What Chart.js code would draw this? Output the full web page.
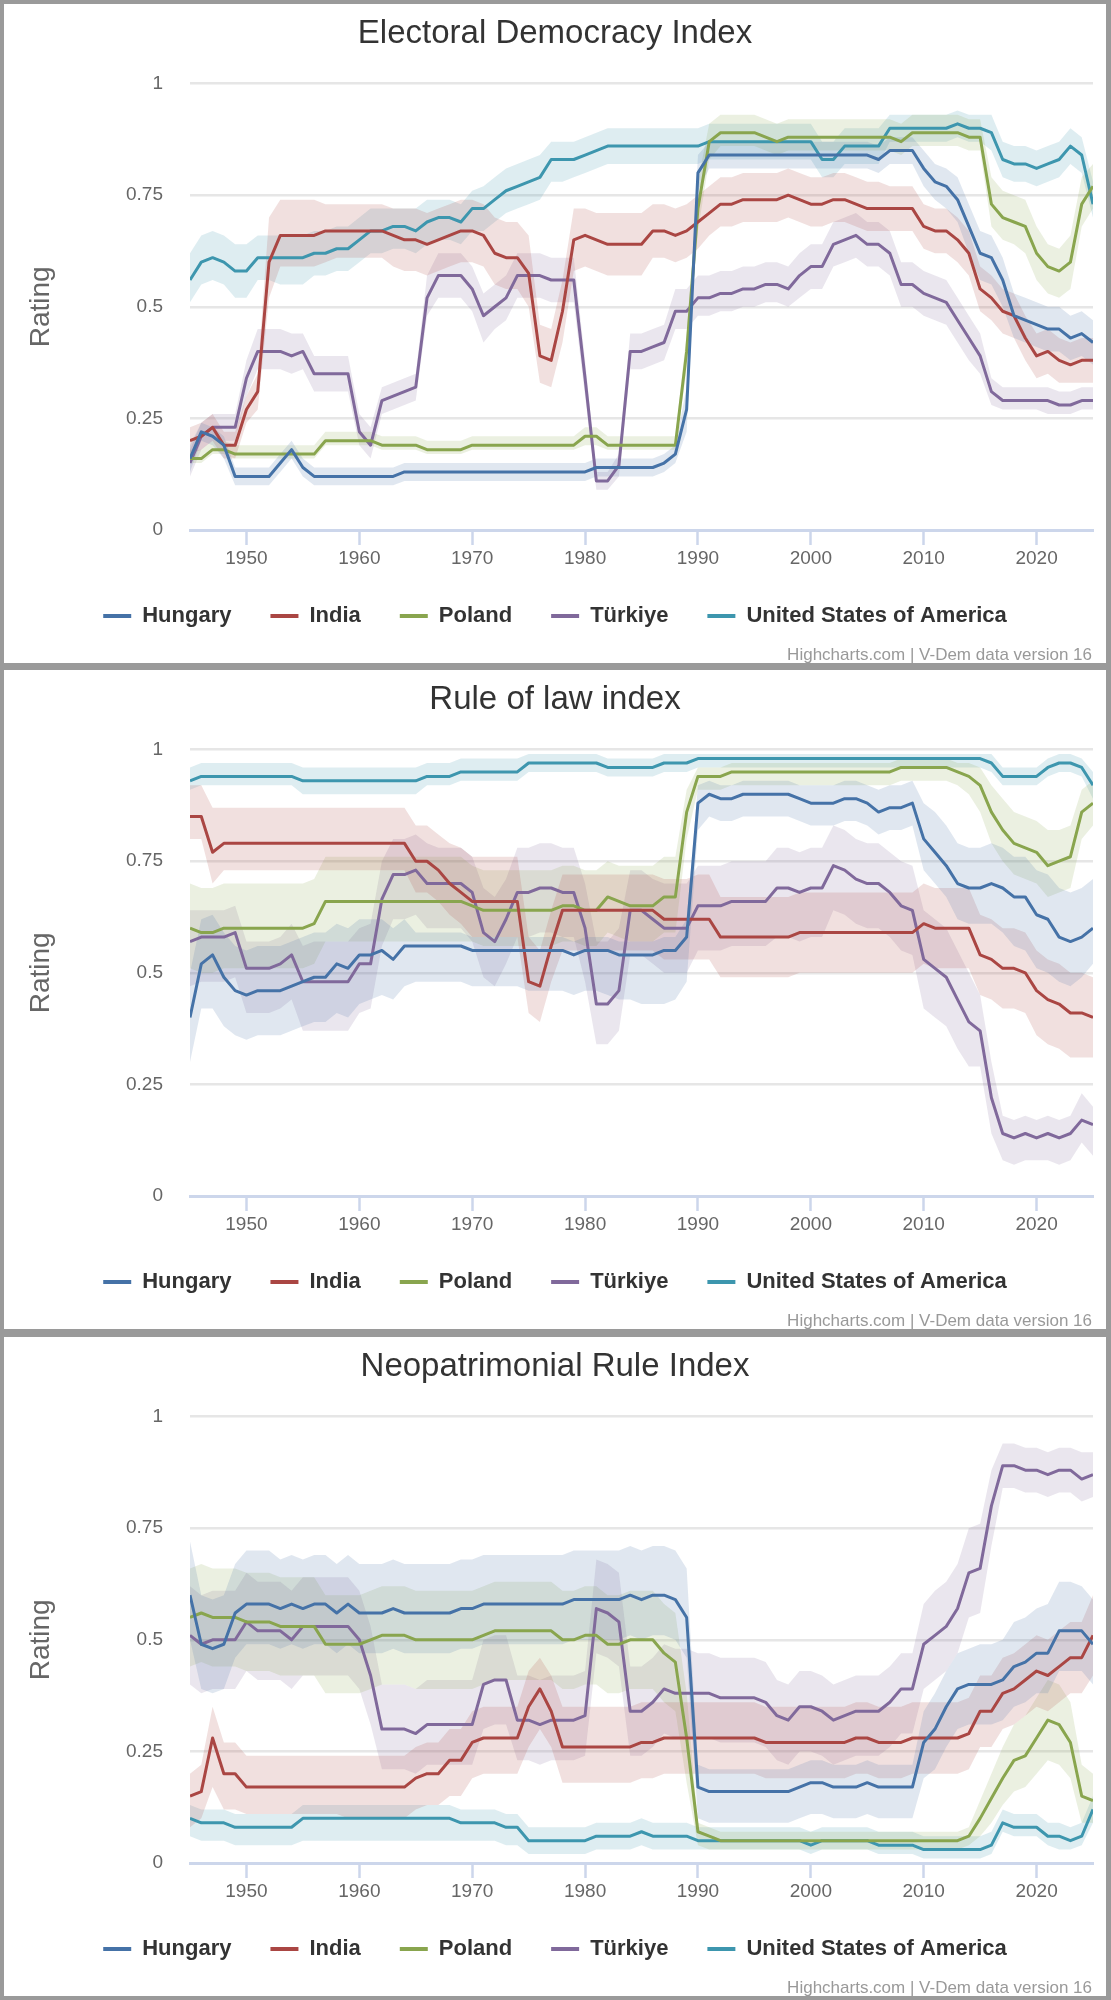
<!DOCTYPE html>
<html>
<head>
<meta charset="utf-8">
<script src="https://cdn.jsdelivr.net/npm/chart.js@4.4.1/dist/chart.umd.min.js"></script>
<style>
  html, body { margin: 0; padding: 0; }
  body { width: 1111px; height: 2000px; background: #9a9a9a; position: relative; overflow: hidden; }
  .box { position: absolute; left: 4px; width: 1102px; height: 659px; background: #fff; }
</style>
</head>
<body>
<div class="box" style="top:4px"><canvas id="ed"></canvas></div>
<div class="box" style="top:670px"><canvas id="rol"></canvas></div>
<div class="box" style="top:1337px"><canvas id="np"></canvas></div>
<script>
const years = [1945,1946,1947,1948,1949,1950,1951,1952,1953,1954, 1955,1956,1957,1958,1959,1960,1961,1962,1963,1964,
  1965,1966,1967,1968,1969,1970,1971,1972,1973,1974, 1975,1976,1977,1978,1979,1980,1981,1982,1983,1984,
  1985,1986,1987,1988,1989,1990,1991,1992,1993,1994, 1995,1996,1997,1998,1999,2000,2001,2002,2003,2004,
  2005,2006,2007,2008,2009,2010,2011,2012,2013,2014, 2015,2016,2017,2018,2019,2020,2021,2022,2023,2024, 2025];
const countries = ["Hungary", "India", "Poland", "Türkiye", "United States of America"];
const xTicks = [1950, 1960, 1970, 1980, 1990, 2000, 2010, 2020];
const yTicks = [0, 0.25, 0.5, 0.75, 1];

// Electoral Democracy Index
const edHungary = [.16,.22,.21,.19,.12,.12,.12,.12,.15,.18, .14,.12,.12,.12,.12,.12,.12,.12,.12,.13, .13,.13,.13,.13,.13,.13,.13,.13,.13,.13, .13,.13,.13,.13,.13,.13,.14,.14,.14,.14, .14,.14,.15,.17,.27,.80,.84,.84,.84,.84, .84,.84,.84,.84,.84,.84,.84,.84,.84,.84, .84,.83,.85,.85,.85,.81,.78,.77,.74,.68, .62,.61,.56,.48,.47,.46,.45,.45,.43,.44, .42];
const edHungaryHi = [.19,.24,.23,.21,.14,.14,.14,.14,.17,.20, .16,.14,.14,.14,.14,.14,.14,.14,.14,.15, .15,.15,.15,.15,.15,.15,.15,.15,.15,.15, .15,.15,.15,.15,.15,.15,.16,.16,.16,.16, .16,.16,.17,.19,.32,.84,.87,.87,.87,.87, .87,.87,.87,.87,.87,.87,.87,.87,.87,.87, .87,.86,.88,.88,.88,.85,.82,.81,.79,.73, .67,.66,.61,.53,.52,.51,.50,.50,.48,.49, .47];
const edHungaryLo = [.13,.20,.19,.16,.10,.10,.10,.10,.13,.16, .12,.10,.10,.10,.10,.10,.10,.10,.10,.11, .11,.11,.11,.11,.11,.11,.11,.11,.11,.11, .11,.11,.11,.11,.11,.11,.12,.12,.12,.12, .12,.12,.13,.15,.22,.76,.81,.81,.81,.81, .81,.81,.81,.81,.81,.81,.81,.81,.81,.81, .81,.80,.82,.82,.82,.77,.74,.72,.69,.62, .56,.55,.50,.43,.42,.41,.40,.40,.38,.39, .37];
const edIndia = [.20,.21,.23,.19,.19,.27,.31,.60,.66,.66, .66,.66,.67,.67,.67,.67,.67,.67,.66,.65, .65,.64,.65,.66,.67,.67,.66,.62,.61,.61, .575,.39,.38,.49,.65,.66,.65,.64,.64,.64, .64,.67,.67,.66,.67,.69,.71,.73,.73,.74, .74,.74,.74,.75,.74,.73,.73,.74,.74,.73, .72,.72,.72,.72,.72,.68,.67,.67,.65,.62, .54,.52,.49,.48,.43,.39,.40,.38,.37,.38, .38];
const edIndiaHi = [.23,.24,.26,.22,.22,.30,.35,.70,.74,.74, .74,.74,.73,.73,.73,.73,.73,.73,.72,.72, .72,.71,.72,.73,.74,.74,.73,.70,.69,.69, .66,.46,.45,.56,.72,.72,.71,.71,.71,.71, .71,.73,.73,.72,.73,.75,.77,.79,.79,.80, .80,.80,.80,.81,.80,.79,.79,.80,.80,.79, .78,.78,.77,.77,.77,.73,.72,.72,.70,.67, .59,.57,.54,.53,.48,.44,.45,.43,.42,.43, .43];
const edIndiaLo = [.17,.18,.20,.16,.16,.24,.27,.52,.59,.59, .59,.59,.60,.61,.61,.61,.61,.61,.59,.58, .58,.57,.58,.59,.60,.60,.59,.55,.54,.54, .50,.33,.32,.42,.58,.59,.58,.57,.57,.57, .57,.61,.61,.60,.61,.63,.66,.68,.68,.69, .69,.69,.69,.70,.69,.68,.68,.69,.69,.68, .67,.67,.67,.67,.67,.63,.62,.62,.60,.57, .49,.47,.44,.43,.38,.34,.35,.33,.33,.33, .33];
const edPoland = [.16,.16,.18,.18,.17,.17,.17,.17,.17,.17, .17,.17,.20,.20,.20,.20,.20,.19,.19,.19, .19,.18,.18,.18,.18,.19,.19,.19,.19,.19, .19,.19,.19,.19,.19,.21,.21,.19,.19,.19, .19,.19,.19,.19,.40,.72,.87,.89,.89,.89, .89,.88,.87,.88,.88,.88,.88,.88,.88,.88, .88,.88,.88,.87,.89,.89,.89,.89,.89,.88, .88,.73,.70,.69,.68,.62,.59,.58,.60,.73, .77];
const edPolandHi = [.18,.18,.20,.20,.19,.19,.19,.19,.19,.19, .19,.19,.22,.22,.22,.22,.22,.21,.21,.21, .21,.20,.20,.20,.20,.21,.21,.21,.21,.21, .21,.21,.21,.21,.21,.23,.23,.21,.21,.21, .21,.21,.21,.21,.44,.78,.91,.93,.93,.93, .93,.92,.91,.92,.92,.92,.92,.92,.92,.92, .92,.92,.92,.91,.93,.93,.93,.93,.93,.92, .92,.79,.76,.75,.74,.68,.64,.63,.66,.79, .82];
const edPolandLo = [.15,.15,.17,.17,.16,.16,.16,.16,.16,.16, .16,.16,.19,.19,.19,.19,.19,.18,.18,.18, .18,.17,.17,.17,.17,.18,.18,.18,.18,.18, .18,.18,.18,.18,.18,.19,.19,.18,.18,.18, .18,.18,.18,.18,.36,.67,.83,.86,.86,.86, .86,.85,.84,.85,.85,.85,.85,.85,.85,.85, .85,.85,.85,.84,.86,.86,.86,.86,.86,.85, .85,.68,.65,.64,.62,.56,.53,.52,.54,.68, .72];
const edTurkiye = [.15,.21,.23,.23,.23,.34,.40,.40,.40,.39, .40,.35,.35,.35,.35,.22,.19,.29,.30,.31, .32,.52,.57,.57,.57,.54,.48,.50,.52,.57, .57,.57,.56,.56,.56,.34,.11,.11,.145,.40, .40,.41,.42,.49,.49,.52,.52,.53,.53,.54, .54,.55,.55,.54,.57,.59,.59,.64,.65,.66, .64,.64,.62,.55,.55,.53,.52,.51,.47,.43, .39,.31,.29,.29,.29,.29,.29,.28,.28,.29, .29];
const edTurkiyeHi = [.18,.24,.26,.26,.26,.38,.45,.45,.45,.44, .44,.39,.39,.39,.39,.26,.23,.32,.33,.34, .35,.57,.62,.62,.62,.59,.53,.55,.57,.62, .62,.62,.61,.61,.61,.38,.13,.13,.17,.44, .44,.45,.46,.54,.54,.57,.57,.58,.58,.59, .59,.60,.60,.59,.62,.64,.64,.69,.70,.71, .69,.69,.67,.60,.60,.58,.57,.56,.52,.48, .44,.34,.32,.32,.32,.32,.32,.31,.31,.32, .32];
const edTurkiyeLo = [.12,.18,.20,.20,.20,.30,.36,.36,.36,.35, .36,.31,.31,.31,.31,.19,.16,.26,.27,.28, .29,.48,.52,.52,.52,.49,.42,.45,.47,.52, .52,.52,.51,.51,.51,.30,.09,.09,.12,.36, .36,.37,.38,.45,.45,.48,.48,.49,.49,.50, .50,.51,.51,.50,.52,.54,.54,.59,.60,.61, .59,.59,.57,.50,.50,.48,.47,.46,.42,.38, .35,.28,.27,.27,.27,.27,.26,.26,.26,.27, .27];
const edUsa = [.56,.60,.61,.60,.58,.58,.61,.61,.61,.61, .61,.62,.62,.63,.63,.65,.67,.67,.68,.68, .67,.69,.70,.70,.69,.72,.72,.74,.76,.77, .78,.79,.83,.83,.83,.84,.85,.86,.86,.86, .86,.86,.86,.86,.86,.86,.87,.87,.87,.87, .87,.87,.87,.87,.87,.87,.83,.83,.86,.86, .86,.86,.90,.90,.90,.90,.90,.90,.91,.90, .90,.89,.83,.82,.82,.81,.82,.83,.86,.84, .73];
const edUsaHi = [.62,.66,.67,.66,.64,.64,.66,.66,.66,.66, .66,.67,.67,.68,.68,.70,.72,.72,.72,.72, .72,.74,.74,.74,.73,.76,.77,.79,.81,.82, .83,.84,.87,.87,.87,.88,.89,.90,.90,.90, .90,.90,.90,.90,.90,.90,.91,.91,.91,.91, .91,.91,.91,.91,.91,.91,.87,.87,.90,.90, .90,.90,.93,.93,.93,.93,.93,.93,.94,.93, .93,.93,.87,.86,.86,.85,.86,.87,.90,.88, .78];
const edUsaLo = [.51,.55,.56,.55,.52,.52,.56,.56,.55,.55, .55,.57,.57,.58,.58,.60,.62,.62,.63,.63, .62,.64,.65,.65,.64,.67,.67,.69,.71,.72, .73,.74,.78,.78,.79,.80,.81,.82,.82,.82, .82,.82,.82,.82,.82,.82,.83,.83,.83,.83, .83,.83,.83,.83,.83,.83,.79,.79,.82,.82, .82,.82,.87,.87,.87,.87,.87,.87,.88,.87, .87,.85,.79,.78,.78,.77,.78,.79,.82,.80, .70];

// Rule of law index
const rolHungary = [.40,.52,.54,.49,.46,.45,.46,.46,.46,.47, .48,.49,.49,.52,.51,.54,.54,.55,.53,.56, .56,.56,.56,.56,.56,.55,.55,.55,.55,.55, .55,.55,.55,.55,.54,.55,.55,.55,.54,.54, .54,.54,.55,.55,.58,.88,.90,.89,.89,.90, .90,.90,.90,.90,.89,.88,.88,.88,.89,.89, .88,.86,.87,.87,.88,.80,.77,.74,.70,.69, .69,.70,.69,.67,.67,.63,.62,.58,.57,.58, .60];
const rolHungaryHi = [.50,.62,.63,.59,.56,.55,.56,.56,.56,.57, .58,.59,.59,.61,.60,.62,.62,.62,.60,.62, .59,.59,.59,.59,.59,.58,.58,.58,.58,.58, .58,.58,.58,.58,.57,.58,.58,.58,.57,.57, .57,.57,.58,.58,.62,.92,.93,.92,.92,.93, .93,.93,.93,.93,.92,.92,.92,.92,.93,.93, .92,.91,.92,.92,.93,.88,.86,.83,.79,.78, .78,.79,.78,.76,.76,.73,.72,.69,.68,.69, .71];
const rolHungaryLo = [.30,.42,.42,.38,.36,.35,.36,.36,.36,.37, .38,.39,.39,.41,.40,.43,.44,.45,.44,.47, .48,.48,.48,.48,.48,.47,.47,.47,.47,.47, .46,.46,.46,.46,.45,.46,.46,.45,.44,.44, .43,.43,.43,.44,.48,.82,.85,.84,.84,.85, .85,.85,.85,.85,.84,.83,.83,.83,.84,.84, .83,.81,.82,.82,.83,.73,.70,.67,.62,.61, .61,.61,.59,.56,.55,.51,.50,.48,.47,.49, .52];
const rolIndia = [.85,.85,.77,.79,.79,.79,.79,.79,.79,.79, .79,.79,.79,.79,.79,.79,.79,.79,.79,.79, .75,.75,.73,.70,.68,.66,.66,.66,.66,.66, .48,.47,.56,.64,.64,.64,.64,.64,.64,.64, .64,.64,.62,.62,.62,.62,.62,.58,.58,.58, .58,.58,.58,.58,.59,.59,.59,.59,.59,.59, .59,.59,.59,.59,.59,.61,.60,.60,.60,.60, .54,.53,.51,.51,.50,.46,.44,.43,.41,.41, .40];
const rolIndiaHi = [.92,.92,.87,.87,.87,.87,.87,.87,.87,.87, .87,.87,.87,.87,.87,.87,.87,.87,.87,.87, .83,.83,.81,.79,.78,.76,.76,.76,.76,.76, .58,.55,.64,.72,.72,.72,.72,.72,.72,.72, .72,.72,.71,.71,.71,.72,.72,.67,.67,.67, .67,.67,.67,.67,.68,.68,.68,.68,.68,.68, .68,.68,.68,.68,.68,.70,.69,.69,.69,.69, .63,.62,.60,.60,.59,.55,.53,.52,.50,.50, .49];
const rolIndiaLo = [.80,.80,.70,.73,.73,.73,.73,.73,.73,.73, .73,.73,.73,.73,.73,.73,.73,.73,.73,.73, .68,.68,.66,.63,.61,.58,.58,.58,.58,.58, .41,.39,.48,.55,.55,.55,.55,.55,.55,.55, .55,.55,.53,.53,.53,.53,.53,.49,.49,.49, .49,.49,.49,.49,.50,.50,.50,.50,.50,.50, .50,.50,.50,.50,.50,.52,.51,.51,.51,.51, .45,.44,.42,.42,.41,.36,.34,.33,.31,.31, .31];
const rolPoland = [.60,.59,.59,.60,.60,.60,.60,.60,.60,.60, .60,.61,.66,.66,.66,.66,.66,.66,.66,.66, .66,.66,.66,.66,.66,.65,.64,.64,.64,.64, .64,.64,.64,.65,.65,.64,.64,.67,.66,.65, .65,.65,.67,.67,.86,.94,.94,.94,.95,.95, .95,.95,.95,.95,.95,.95,.95,.95,.95,.95, .95,.95,.95,.96,.96,.96,.96,.96,.95,.94, .92,.86,.82,.79,.78,.77,.74,.75,.76,.86, .88];
const rolPolandHi = [.70,.69,.69,.70,.70,.70,.70,.70,.70,.70, .70,.71,.76,.76,.76,.76,.76,.76,.76,.76, .76,.76,.76,.76,.76,.74,.73,.73,.73,.73, .73,.73,.73,.74,.74,.73,.73,.75,.74,.74, .74,.74,.76,.76,.91,.96,.96,.96,.97,.97, .97,.97,.97,.97,.97,.97,.97,.97,.97,.97, .97,.97,.97,.98,.98,.98,.98,.98,.97,.97, .96,.92,.89,.86,.85,.84,.82,.82,.83,.91, .93];
const rolPolandLo = [.51,.50,.50,.51,.51,.51,.51,.51,.51,.51, .51,.52,.57,.57,.57,.57,.57,.57,.57,.57, .57,.57,.57,.57,.57,.57,.56,.56,.56,.56, .56,.56,.56,.57,.57,.56,.56,.59,.58,.57, .57,.57,.59,.59,.80,.91,.91,.91,.92,.92, .92,.92,.92,.92,.92,.92,.92,.92,.92,.92, .92,.92,.92,.93,.93,.93,.93,.93,.92,.90, .86,.79,.75,.72,.71,.70,.67,.68,.69,.80, .83];
const rolTurkiye = [.57,.58,.58,.58,.59,.51,.51,.51,.52,.54, .48,.48,.48,.48,.48,.52,.52,.665,.72,.72, .73,.70,.70,.70,.70,.68,.59,.57,.62,.68, .68,.69,.69,.68,.68,.60,.43,.43,.46,.64, .64,.62,.60,.60,.60,.65,.65,.65,.66,.66, .66,.66,.69,.69,.68,.69,.69,.74,.73,.71, .70,.70,.68,.65,.64,.53,.51,.49,.44,.39, .37,.22,.14,.13,.14,.13,.14,.13,.14,.17, .16];
const rolTurkiyeHi = [.64,.64,.64,.64,.65,.57,.57,.57,.58,.61, .56,.57,.57,.57,.57,.60,.61,.75,.80,.80, .81,.79,.78,.78,.78,.76,.69,.67,.71,.78, .78,.79,.79,.78,.78,.70,.57,.57,.60,.73, .73,.71,.70,.70,.70,.74,.74,.74,.75,.75, .75,.75,.78,.78,.77,.78,.78,.83,.82,.80, .79,.79,.77,.75,.74,.64,.62,.60,.55,.50, .45,.30,.18,.17,.18,.17,.18,.17,.18,.23, .20];
const rolTurkiyeLo = [.47,.48,.48,.48,.49,.41,.41,.41,.42,.44, .37,.37,.37,.37,.37,.41,.42,.56,.62,.62, .63,.60,.60,.60,.60,.57,.49,.47,.52,.58, .58,.59,.59,.58,.58,.48,.34,.34,.37,.54, .54,.52,.50,.50,.50,.55,.55,.55,.56,.56, .56,.56,.58,.58,.57,.58,.58,.64,.63,.61, .60,.60,.58,.55,.54,.42,.40,.38,.33,.29, .29,.14,.08,.07,.08,.08,.08,.07,.08,.12, .09];
const rolUsa = [.93,.94,.94,.94,.94,.94,.94,.94,.94,.94, .93,.93,.93,.93,.93,.93,.93,.93,.93,.93, .93,.94,.94,.94,.95,.95,.95,.95,.95,.95, .97,.97,.97,.97,.97,.97,.97,.96,.96,.96, .96,.96,.97,.97,.97,.98,.98,.98,.98,.98, .98,.98,.98,.98,.98,.98,.98,.98,.98,.98, .98,.98,.98,.98,.98,.98,.98,.98,.98,.98, .98,.97,.94,.94,.94,.94,.96,.97,.97,.96, .92];
const rolUsaHi = [.96,.97,.97,.97,.97,.97,.97,.97,.97,.97, .96,.96,.96,.96,.96,.96,.96,.96,.96,.96, .96,.97,.97,.97,.98,.98,.98,.98,.98,.98, .99,.99,.99,.99,.99,.99,.99,.98,.98,.98, .98,.98,.99,.99,.99,.99,.99,.99,.99,.99, .99,.99,.99,.99,.99,.99,.99,.99,.99,.99, .99,.99,.99,.99,.99,.99,.99,.99,.99,.99, .99,.99,.96,.96,.96,.96,.98,.99,.99,.98, .95];
const rolUsaLo = [.91,.92,.92,.92,.92,.92,.92,.92,.92,.92, .90,.90,.90,.90,.90,.90,.90,.90,.90,.90, .90,.92,.92,.92,.93,.93,.93,.93,.93,.93, .95,.95,.95,.95,.95,.95,.95,.94,.94,.94, .94,.94,.95,.95,.95,.96,.96,.96,.96,.96, .96,.96,.96,.96,.96,.96,.96,.96,.96,.96, .96,.96,.96,.96,.96,.96,.96,.96,.96,.96, .96,.95,.92,.92,.92,.92,.94,.95,.95,.94, .89];

// Neopatrimonial Rule Index
const npHungary = [.60,.49,.48,.49,.56,.58,.58,.58,.57,.58, .57,.58,.58,.56,.58,.56,.56,.56,.57,.56, .56,.56,.56,.56,.57,.57,.58,.58,.58,.58, .58,.58,.58,.58,.59,.59,.59,.59,.59,.60, .59,.60,.60,.59,.55,.17,.16,.16,.16,.16, .16,.16,.16,.16,.17,.18,.18,.17,.17,.17, .18,.17,.17,.17,.17,.27,.30,.35,.39,.40, .40,.40,.41,.44,.45,.47,.47,.52,.52,.52, .49];
const npHungaryHi = [.72,.60,.59,.60,.67,.70,.70,.70,.68,.69, .68,.69,.69,.67,.69,.67,.67,.67,.68,.67, .67,.67,.67,.67,.68,.68,.69,.69,.69,.69, .69,.69,.69,.69,.70,.70,.70,.70,.70,.71, .70,.71,.71,.70,.66,.22,.21,.21,.21,.21, .21,.21,.21,.21,.22,.23,.23,.22,.22,.22, .23,.22,.22,.22,.22,.34,.38,.43,.47,.48, .49,.49,.50,.54,.55,.57,.58,.63,.63,.62, .59];
const npHungaryLo = [.50,.39,.38,.39,.46,.49,.49,.49,.48,.49, .48,.49,.49,.47,.49,.47,.47,.47,.48,.47, .47,.47,.47,.47,.48,.48,.49,.49,.49,.49, .49,.49,.49,.49,.50,.50,.50,.50,.50,.51, .50,.51,.51,.50,.46,.10,.09,.09,.09,.09, .09,.09,.09,.09,.10,.11,.11,.10,.10,.10, .11,.10,.10,.10,.10,.19,.21,.26,.30,.31, .31,.31,.32,.35,.36,.38,.38,.43,.43,.43, .40];
const npIndia = [.15,.16,.28,.20,.20,.17,.17,.17,.17,.17, .17,.17,.17,.17,.17,.17,.17,.17,.17,.17, .19,.20,.20,.23,.23,.27,.28,.28,.28,.28, .35,.39,.34,.26,.26,.26,.26,.26,.26,.26, .27,.27,.28,.28,.28,.28,.28,.28,.28,.28, .28,.27,.27,.27,.27,.27,.27,.27,.27,.28, .28,.27,.27,.27,.28,.28,.28,.28,.28,.29, .34,.34,.38,.39,.41,.43,.42,.44,.46,.46, .51];
const npIndiaHi = [.20,.22,.35,.27,.27,.24,.24,.24,.24,.24, .24,.24,.24,.24,.24,.24,.24,.24,.24,.24, .26,.27,.27,.30,.30,.34,.35,.35,.35,.35, .43,.46,.42,.35,.35,.35,.35,.35,.35,.35, .36,.36,.36,.36,.36,.36,.36,.36,.36,.36, .36,.35,.35,.35,.35,.35,.35,.35,.35,.36, .36,.35,.35,.35,.36,.36,.36,.36,.36,.37, .42,.42,.46,.47,.49,.51,.50,.52,.54,.54, .60];
const npIndiaLo = [.08,.10,.17,.12,.12,.11,.11,.11,.11,.11, .11,.11,.11,.11,.10,.10,.10,.10,.10,.10, .12,.13,.13,.15,.15,.19,.20,.20,.20,.20, .26,.30,.26,.18,.18,.18,.18,.18,.18,.18, .19,.19,.20,.20,.20,.20,.20,.20,.20,.20, .20,.19,.19,.19,.19,.19,.19,.19,.19,.20, .20,.19,.19,.19,.20,.20,.20,.20,.20,.21, .26,.26,.30,.31,.33,.35,.34,.36,.38,.38, .42];
const npPoland = [.55,.56,.55,.55,.55,.54,.54,.54,.53,.53, .53,.53,.49,.49,.49,.49,.50,.51,.51,.51, .50,.50,.50,.50,.50,.50,.51,.52,.52,.52, .52,.52,.52,.50,.50,.51,.51,.49,.49,.50, .50,.50,.47,.45,.28,.07,.06,.05,.05,.05, .05,.05,.05,.05,.05,.05,.05,.05,.05,.05, .05,.05,.05,.05,.05,.05,.05,.05,.05,.06, .10,.145,.19,.23,.24,.28,.32,.31,.27,.15, .14];
const npPolandHi = [.66,.67,.66,.66,.66,.65,.65,.65,.64,.64, .64,.64,.60,.60,.60,.60,.61,.62,.62,.62, .61,.61,.61,.61,.61,.61,.62,.63,.63,.63, .63,.63,.63,.61,.61,.62,.62,.60,.60,.61, .61,.61,.58,.56,.38,.09,.08,.07,.07,.07, .07,.07,.07,.07,.07,.07,.07,.07,.07,.07, .07,.07,.07,.07,.07,.07,.07,.07,.07,.08, .14,.20,.26,.31,.33,.37,.41,.40,.36,.22, .20];
const npPolandLo = [.44,.45,.44,.44,.44,.43,.43,.43,.42,.42, .42,.42,.38,.38,.38,.38,.39,.40,.40,.40, .39,.39,.39,.39,.39,.39,.40,.41,.41,.41, .41,.41,.41,.39,.39,.40,.40,.38,.38,.39, .39,.39,.36,.34,.18,.04,.03,.03,.03,.03, .03,.03,.03,.03,.03,.03,.03,.03,.03,.03, .03,.03,.03,.03,.03,.03,.03,.03,.03,.04, .06,.09,.13,.16,.17,.20,.23,.22,.19,.09, .09];
const npTurkiye = [.51,.49,.50,.50,.50,.54,.52,.52,.52,.50, .53,.53,.53,.53,.53,.50,.42,.30,.30,.30, .29,.31,.31,.31,.31,.31,.40,.41,.41,.32, .32,.31,.32,.32,.32,.33,.57,.56,.54,.34, .34,.36,.39,.38,.38,.38,.38,.37,.37,.37, .37,.36,.33,.32,.35,.35,.34,.32,.33,.34, .34,.34,.36,.39,.39,.49,.51,.53,.57,.65, .66,.80,.89,.89,.88,.88,.87,.88,.88,.86, .87];
const npTurkiyeHi = [.62,.60,.61,.61,.61,.65,.63,.63,.63,.61, .64,.64,.64,.64,.64,.61,.53,.40,.40,.40, .39,.41,.41,.41,.41,.41,.50,.51,.51,.42, .42,.41,.42,.42,.42,.43,.68,.67,.65,.44, .44,.46,.49,.48,.48,.47,.47,.46,.46,.46, .46,.45,.41,.40,.43,.43,.42,.40,.41,.42, .42,.42,.44,.47,.47,.58,.61,.63,.67,.75, .76,.88,.94,.94,.93,.93,.92,.93,.93,.92, .92];
const npTurkiyeLo = [.40,.38,.39,.39,.39,.43,.41,.41,.41,.39, .42,.42,.42,.42,.42,.39,.31,.21,.21,.21, .20,.22,.22,.22,.22,.22,.30,.31,.31,.23, .23,.22,.23,.23,.23,.24,.47,.46,.44,.24, .24,.26,.29,.28,.28,.28,.28,.27,.27,.27, .27,.26,.23,.22,.25,.25,.24,.22,.23,.24, .24,.24,.26,.29,.29,.39,.41,.43,.47,.55, .56,.71,.84,.84,.83,.83,.82,.83,.83,.81, .82];
const npUsa = [.10,.09,.09,.09,.08,.08,.08,.08,.08,.08, .10,.10,.10,.10,.10,.10,.10,.10,.10,.10, .10,.10,.10,.10,.09,.09,.09,.09,.08,.08, .05,.05,.05,.05,.05,.05,.06,.06,.06,.06, .07,.06,.06,.06,.06,.05,.05,.05,.05,.05, .05,.05,.05,.05,.05,.04,.05,.05,.05,.05, .05,.04,.04,.04,.04,.03,.03,.03,.03,.03, .03,.04,.09,.08,.08,.08,.06,.06,.05,.06, .12];
const npUsaHi = [.13,.12,.12,.12,.11,.11,.11,.11,.11,.11, .13,.13,.13,.13,.13,.13,.13,.13,.13,.13, .13,.13,.13,.13,.12,.12,.12,.12,.11,.11, .08,.08,.08,.08,.08,.08,.09,.09,.09,.09, .10,.09,.09,.09,.09,.08,.08,.08,.08,.08, .08,.08,.08,.08,.08,.07,.08,.08,.08,.08, .08,.07,.07,.07,.07,.06,.06,.06,.06,.06, .06,.07,.12,.11,.11,.11,.09,.09,.08,.09, .15];
const npUsaLo = [.06,.05,.05,.05,.04,.04,.04,.04,.04,.04, .05,.05,.05,.05,.05,.05,.05,.05,.05,.05, .05,.05,.05,.05,.05,.05,.05,.05,.04,.04, .02,.02,.02,.02,.02,.02,.03,.03,.03,.03, .04,.03,.03,.03,.03,.03,.03,.03,.03,.03, .03,.03,.03,.03,.03,.02,.03,.03,.03,.03, .03,.02,.02,.02,.02,.01,.01,.01,.01,.01, .01,.02,.07,.06,.06,.06,.04,.03,.03,.04, .09];

const FONT = '"Liberation Sans", Arial, Helvetica, sans-serif';
const colors = ["#4572A7", "#AA4643", "#89A54E", "#80699B", "#3D96AE"];

function rgba(hex, a) {
  const n = parseInt(hex.slice(1), 16);
  return "rgba(" + (n >> 16) + "," + ((n >> 8) & 255) + "," + (n & 255) + "," + a + ")";
}

function pts(arr) {
  return arr.map((v, i) => ({ x: years[i], y: v }));
}

// credit line in the bottom right corner
const credits = {
  id: "credits",
  afterDraw(chart) {
    const ctx = chart.ctx;
    ctx.save();
    ctx.font = "17px " + FONT;
    ctx.fillStyle = "#999999";
    ctx.textAlign = "right";
    ctx.textBaseline = "middle";
    ctx.fillText("Highcharts.com | V-Dem data version 16", chart.width - 14, chart.height - 8);
    ctx.restore();
  }
};

function makeChart(id, title, vals, lows, highs) {
  const datasets = [];
  countries.forEach((name, i) => {
    datasets.push({ label: name + " low", data: pts(lows[i]), band: true, borderWidth: 0,
      borderColor: "rgba(0,0,0,0)", backgroundColor: rgba(colors[i], 0.17), pointRadius: 0, fill: false, order: 2 });
    datasets.push({ label: name + " range", data: pts(highs[i]), band: true, borderWidth: 0,
      borderColor: "rgba(0,0,0,0)", backgroundColor: rgba(colors[i], 0.17), pointRadius: 0, fill: "-1", order: 2 });
  });
  countries.forEach((name, i) => {
    datasets.push({ label: name, data: pts(vals[i]), borderColor: colors[i], backgroundColor: colors[i],
      borderWidth: 3, pointRadius: 0, pointHoverRadius: 0, fill: false, order: 1, borderJoinStyle: "round" });
  });

  new Chart(document.getElementById(id), {
    type: "line",
    data: { datasets },
    plugins: [credits],
    options: {
      responsive: true,
      maintainAspectRatio: false,
      animation: false,
      events: [],
      layout: { padding: { left: 13, right: 13, top: 0, bottom: 26 } },
      plugins: {
        title: {
          display: true, text: title, color: "#333333",
          font: { size: 33, weight: "normal", family: FONT },
          padding: { top: 10, bottom: 30 }
        },
        legend: {
          position: "bottom",
          labels: {
            boxWidth: 28, boxHeight: 4, padding: 39, color: "#333333",
            font: { size: 22, weight: "bold", family: FONT },
            generateLabels: (chart) => Chart.defaults.plugins.legend.labels.generateLabels(chart)
              .map(l => Object.assign(l, { lineWidth: 0 })),
            filter: (item, data) => !data.datasets[item.datasetIndex].band
          }
        },
        tooltip: { enabled: false }
      },
      scales: {
        x: {
          type: "linear", min: 1945, max: 2025,
          afterBuildTicks: (s) => { s.ticks = xTicks.map(v => ({ value: v })); },
          afterFit: (s) => { s.height = 36; },
          ticks: { callback: (v) => String(v), color: "#666666", font: { size: 19, family: FONT },
            padding: 2, maxRotation: 0, autoSkip: false },
          grid: { drawOnChartArea: false, drawTicks: true, tickLength: 15, tickColor: "#ccd6eb", tickWidth: 2.5 },
          border: { display: true, color: "#ccd6eb", width: 3 }
        },
        y: {
          min: 0, max: 1,
          afterBuildTicks: (s) => { s.ticks = yTicks.map(v => ({ value: v })); },
          afterFit: (s) => { s.width = 173; },
          ticks: { callback: (v) => String(v), color: "#666666", font: { size: 19, family: FONT }, padding: 27 },
          grid: { color: "#e6e6e6", lineWidth: 2.5, drawTicks: false },
          border: { display: false },
          title: { display: true, text: "Rating", color: "#666666", font: { size: 28, family: FONT },
            padding: { top: 7, bottom: 0 } }
        }
      }
    }
  });
}

makeChart("ed", "Electoral Democracy Index",
  [edHungary, edIndia, edPoland, edTurkiye, edUsa],
  [edHungaryLo, edIndiaLo, edPolandLo, edTurkiyeLo, edUsaLo],
  [edHungaryHi, edIndiaHi, edPolandHi, edTurkiyeHi, edUsaHi]);
makeChart("rol", "Rule of law index",
  [rolHungary, rolIndia, rolPoland, rolTurkiye, rolUsa],
  [rolHungaryLo, rolIndiaLo, rolPolandLo, rolTurkiyeLo, rolUsaLo],
  [rolHungaryHi, rolIndiaHi, rolPolandHi, rolTurkiyeHi, rolUsaHi]);
makeChart("np", "Neopatrimonial Rule Index",
  [npHungary, npIndia, npPoland, npTurkiye, npUsa],
  [npHungaryLo, npIndiaLo, npPolandLo, npTurkiyeLo, npUsaLo],
  [npHungaryHi, npIndiaHi, npPolandHi, npTurkiyeHi, npUsaHi]);
</script>
</body>
</html>
